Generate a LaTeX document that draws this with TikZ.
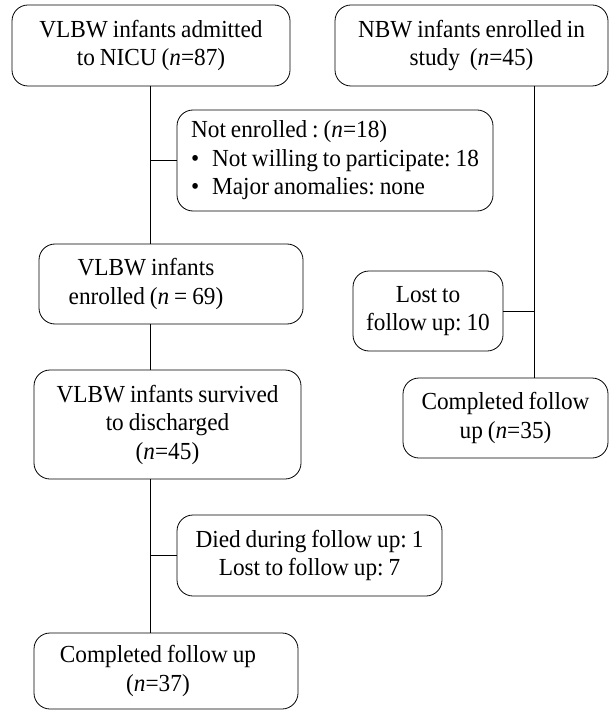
\documentclass[tikz,border=0pt]{standalone}
\usepackage{fontspec}
\setmainfont[FakeStretch=0.95,WordSpace=0.85]{Liberation Serif}
\frenchspacing
\begin{document}
\begin{tikzpicture}[x=1pt,y=-1pt,
		box/.style={draw,rounded corners=16pt,line width=0.8pt,align=center,inner sep=0pt,
			font=\fontsize{24.5}{28.5}\selectfont},
		ln/.style={line width=0.8pt}]
		\useasboundingbox (0,0) rectangle (609,711);
		% Hai cột: VLBW bên trái, NBW bên phải
		\coordinate (lt) at (150,0);
		\coordinate (rt) at (534,0);
		\node[box,minimum width=278pt,minimum height=81pt] (adm) at (151,45.5) {VLBW infants admitted\\to NICU (\textit{n}=87)};
		\node[box,minimum width=273pt,minimum height=81pt] (nbw) at (471.5,45.5) {NBW infants enrolled in\\study~ (\textit{n}=45)};
		\node[box,align=left,minimum width=316pt,minimum height=101pt] (noten) at (335,160.5)
			{Not enrolled : (\textit{n}=18)\\\makebox[21pt][l]{\textbullet}Not willing to participate: 18\\\makebox[21pt][l]{\textbullet}Major anomalies: none};
		\node[box,minimum width=264pt,minimum height=80pt] (enr) at (171,284) {VLBW infants\hspace*{50pt}\\enrolled (\textit{n} = 69)\hspace*{50pt}};
		\node[box,minimum width=267pt,minimum height=109pt] (surv) at (167.5,424.5) {VLBW infants survived\\to discharged\\(\textit{n}=45)};
		\node[box,minimum width=265pt,minimum height=81pt] (died) at (309.5,555.5) {Died during follow up: 1\\Lost to follow up: 7};
		\node[box,minimum width=264pt,minimum height=76pt] (comp37) at (166,671) {Completed follow up\hspace*{16pt}\\(\textit{n}=37)\hspace*{16pt}};
		\node[box,minimum width=150pt,minimum height=80pt] (lost) at (428,311) {Lost to\\follow up: 10};
		\node[box,minimum width=205pt,minimum height=80pt] (comp35) at (505.5,418) {Completed follow\\up (\textit{n}=35)};
		% Đường nối
		\draw[ln] (adm.south -| lt) -- (enr.north -| lt);
		\draw[ln] (noten.west) -- (noten.west -| lt);
		\draw[ln] (enr.south -| lt) -- (surv.north -| lt);
		\draw[ln] (surv.south -| lt) -- (comp37.north -| lt);
		\draw[ln] (died.west) -- (died.west -| lt);
		\draw[ln] (nbw.south -| rt) -- (comp35.north -| rt);
		\draw[ln] (lost.east) -- (lost.east -| rt);
	\end{tikzpicture}
\end{document}
